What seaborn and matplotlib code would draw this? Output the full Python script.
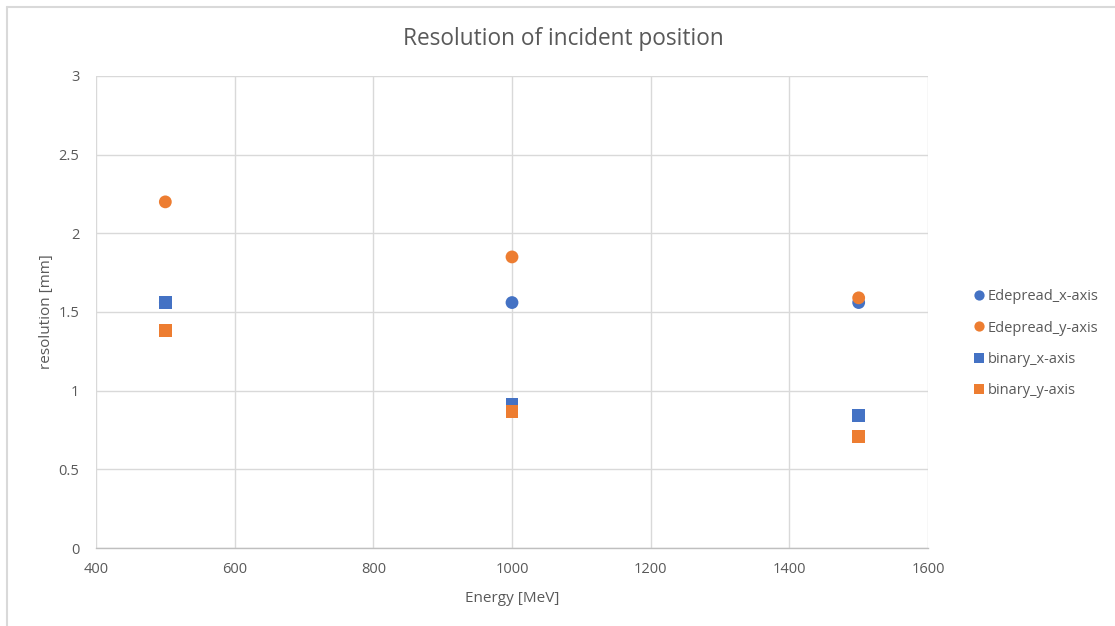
import matplotlib
matplotlib.use("Agg")
import matplotlib.pyplot as plt
import seaborn as sns
import pandas as pd

# Beam energies and position resolution per method/axis
energy = [500, 1000, 1500]
edepread_x = [1.56, 1.56, 1.56]
edepread_y = [2.20, 1.85, 1.59]
binary_x = [1.56, 0.91, 0.84]
binary_y = [1.38, 0.87, 0.71]

series_names = ["Edepread_x-axis", "Edepread_y-axis", "binary_x-axis", "binary_y-axis"]
series_values = [edepread_x, edepread_y, binary_x, binary_y]

x_ticks = [400, 600, 800, 1000, 1200, 1400, 1600]
y_ticks = [0, 0.5, 1, 1.5, 2, 2.5, 3]

rows = []
for name, vals in zip(series_names, series_values):
    for e, v in zip(energy, vals):
        rows.append({"Energy": e, "resolution": v, "series": name})
df = pd.DataFrame(rows)

sns.set_theme(style="white")
plt.rcParams["font.family"] = ["Open Sans", "DejaVu Sans"]

BLUE = "#4472C4"
ORANGE = "#ED7D31"
TEXT = "#595959"
GRID = "#D9D9D9"

fig = plt.figure(figsize=(11.15, 6.26), dpi=100)
ax = fig.add_axes([0.0861, 0.1246, 0.8323 - 0.0861, 0.8786 - 0.1246])

sns.scatterplot(
    data=df, x="Energy", y="resolution",
    hue="series", style="series",
    palette={series_names[0]: BLUE, series_names[1]: ORANGE,
             series_names[2]: BLUE, series_names[3]: ORANGE},
    markers={series_names[0]: "o", series_names[1]: "o",
             series_names[2]: "s", series_names[3]: "s"},
    s=85, linewidth=0, ax=ax, zorder=3,
)

ax.set_xlim(400, 1600)
ax.set_ylim(0, 3)
ax.set_xticks(x_ticks)
ax.set_xticklabels([str(t) for t in x_ticks])
ax.set_yticks(y_ticks)
ax.set_yticklabels([f"{t:g}" for t in y_ticks])
ax.grid(True, color=GRID, linewidth=1.0)
ax.set_axisbelow(True)
for side in ["top", "right", "left"]:
    ax.spines[side].set_visible(False)
ax.spines["bottom"].set_color("#BFBFBF")
ax.spines["bottom"].set_linewidth(1.0)
ax.tick_params(axis="both", length=0, labelsize=10.5, colors=TEXT, pad=10)
ax.tick_params(axis="y", pad=12)

ax.set_xlabel("Energy [MeV]", fontsize=11, color=TEXT, labelpad=10)
ax.set_ylabel("resolution [mm]", fontsize=11, color=TEXT, labelpad=3)
fig.text(0.505, 0.937, "Resolution of incident position", ha="center", va="center",
         fontsize=16.3, color=TEXT)

handles, labels = ax.get_legend_handles_labels()
ax.get_legend().remove()
leg = fig.legend(handles, labels, loc="center left", bbox_to_anchor=(0.8595, 0.451),
                 frameon=False, fontsize=10.5, labelspacing=1.12, handletextpad=0.1,
                 handlelength=1.0, markerscale=0.8)
for t in leg.get_texts():
    t.set_color(TEXT)

# outer chart frame
fig.add_artist(plt.Line2D([0.0063, 1.0], [0.9896, 0.9896], transform=fig.transFigure,
                          color="#D9D9D9", linewidth=1.5))
fig.add_artist(plt.Line2D([0.0063, 0.0063], [0.0, 0.9896], transform=fig.transFigure,
                          color="#D9D9D9", linewidth=1.5))

fig.savefig("out.png", dpi=100, facecolor="white")
